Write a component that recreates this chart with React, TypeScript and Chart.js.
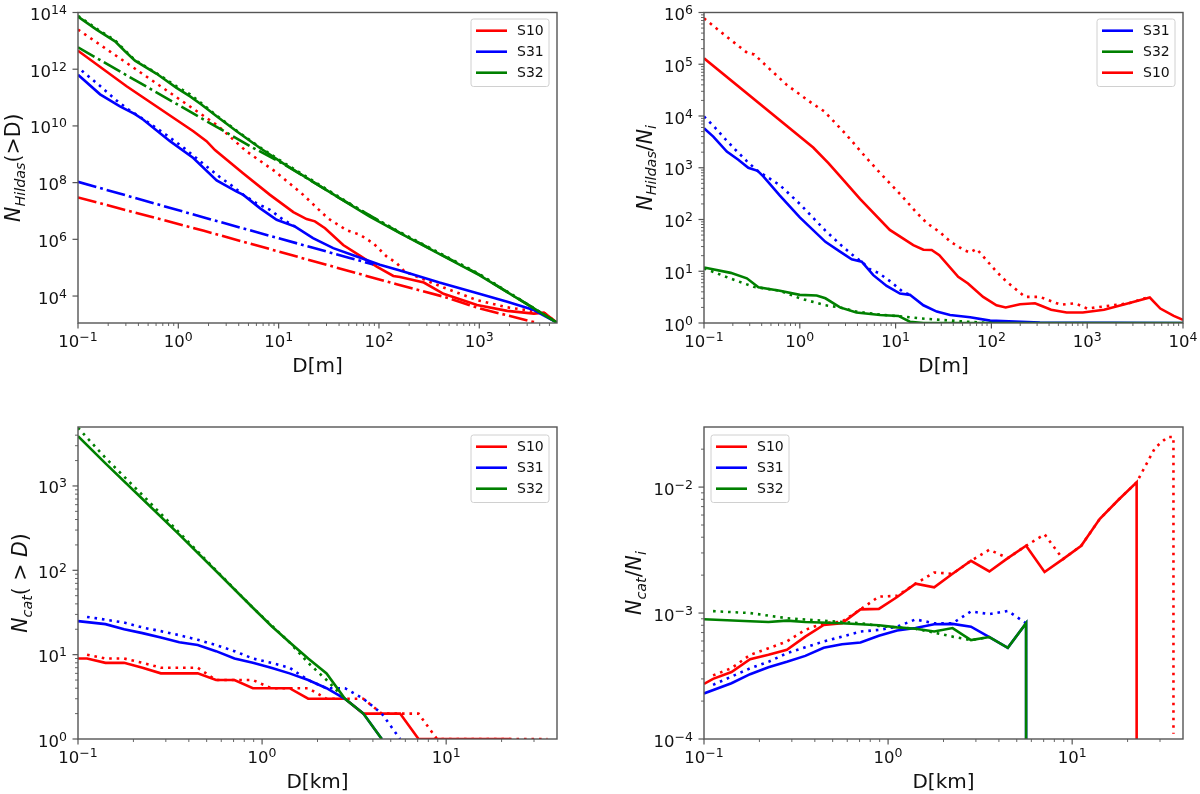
import React, { useEffect, useRef } from 'react';
import { Chart, registerables } from 'chart.js';

Chart.register(...registerables);

type Pt = [number, number];

const RED = '#ff0000';
const BLUE = '#0000ff';
const GREEN = '#008000';
const FONT = '"DejaVu Sans"';

// top left: N_Hildas(>D) against D[m]
const hildasS10: Pt[] = [[0.1, 4.5e12], [0.305, 2.5e11], [1.41, 6.5e9], [1.91, 2.9e9], [2.32, 1.4e9], [4.45, 2.1e8], [8.2, 3.7e7], [14, 9.1e6], [19, 5.2e6], [23, 4.3e6], [29, 2.45e6], [44, 6.3e5], [65, 2.6e5], [95, 1.1e5], [139, 5.1e4], [162, 4.7e4], [280, 3e4], [440, 1.2e4], [950, 4.8e3], [1900, 3e3], [3500, 2.4e3], [4400, 2.6e3], [5950, 1.15e3]];
const hildasS10Dot: Pt[] = [[0.1, 2.5e13], [2.45, 1.05e10], [4.73, 1.3e9], [9.2, 2.5e8], [17.6, 3.7e7], [31, 5.5e6], [47.6, 2.1e6], [64.7, 1.45e6], [88, 7.2e5], [119, 2.5e5], [150, 1.45e5], [180, 7.3e4], [440, 2e4], [950, 7.2e3], [1900, 4e3], [4400, 2.6e3], [5950, 1.15e3]];
const hildasS10Dash: Pt[] = [[0.1, 3e7], [1.8, 2e6], [150, 2.6e4], [440, 9.5e3], [1000, 3.7e3], [3700, 1.15e3]];
const hildasS31: Pt[] = [[0.1, 6.4e11], [0.166, 1.3e11], [0.262, 4.9e10], [0.37, 2.6e10], [0.448, 1.66e10], [0.826, 2.9e9], [1.41, 7.4e8], [2.41, 1.2e8], [3.82, 4.8e7], [4.45, 3.7e7], [6.5, 1.26e7], [9.55, 4.9e6], [14.6, 2.8e6], [22, 1.1e6], [35, 4.9e5], [60, 2.5e5], [102, 1.26e5], [162, 8e4], [400, 3e4], [1000, 1.2e4], [1900, 6.3e3], [3500, 3.2e3], [5950, 1.15e3]];
const hildasS31Dot: Pt[] = [[0.109, 8.9e11], [0.163, 2.7e11], [0.243, 7.8e10], [0.322, 3.7e10], [0.49, 1.4e10], [0.753, 4.9e9], [1.14, 1.66e9], [1.75, 4.8e8], [2.6, 1.55e8], [3.45, 7.6e7], [4.45, 3.7e7], [6.04, 1.86e7], [8.2, 1.1e7], [11.1, 4.9e6], [14.6, 2.8e6]];
const hildasS31Dash: Pt[] = [[0.1, 1.07e8], [1.8, 5.9e6], [51, 2.2e5], [88, 1.3e5]];
const hildasS32: Pt[] = [[0.1, 7.2e13], [0.153, 2.5e13], [0.234, 9.6e12], [0.294, 4.3e12], [0.37, 2e12], [0.608, 6.9e11], [0.96, 2.2e11], [1.31, 1.1e11], [1.71, 5.6e10], [2.41, 2.2e10], [3.81, 6.5e9], [6.52, 1.66e9], [11.1, 4.8e8], [40.8, 2.8e7], [81, 6.3e6], [162, 1.66e6], [1000, 5.5e4], [3500, 3.7e3], [5950, 1.15e3]];
const hildasS32Dot: Pt[] = [[0.1, 7.6e13], [0.153, 2.7e13], [0.234, 1.05e13], [0.294, 4.6e12], [0.37, 2.1e12], [0.608, 7.2e11], [0.96, 2.5e11], [1.31, 1.3e11], [1.71, 6.2e10], [2.41, 2.3e10], [3.81, 6.8e9], [6.52, 1.75e9], [11.1, 5.2e8], [40.8, 3e7], [81, 6.8e6], [162, 1.8e6], [1000, 6e4], [3500, 3.7e3], [5950, 1.15e3]];
const hildasS32Dash: Pt[] = [[0.1, 5.9e12], [5.38, 1.8e9], [11.1, 4.6e8], [40.8, 2.8e7], [162, 1.7e6], [1000, 5.7e4], [5950, 1.15e3]];

// top right: N_Hildas/N_i against D[m]
const ratioS31: Pt[] = [[0.1, 5.8e3], [0.125, 4e3], [0.173, 2.06e3], [0.228, 1.43e3], [0.29, 1e3], [0.363, 8.7e2], [0.416, 6.8e2], [0.62, 2.9e2], [1, 1.1e2], [1.85, 37], [2.63, 24], [3.48, 17], [4.43, 15.3], [5.85, 8.4], [8.07, 5.2], [11.1, 3.7], [14.1, 3.5], [19.5, 2.2], [26.9, 1.66], [37, 1.43], [60, 1.29], [97, 1.11], [321, 1.02], [10000, 1]];
const ratioS31Dot: Pt[] = [[0.1, 9.8e3], [0.13, 6e3], [0.166, 3.6e3], [0.214, 2.2e3], [0.278, 1.36e3], [0.315, 1.1e3], [0.363, 8.7e2], [0.62, 4.6e2], [1, 2e2], [1.85, 61], [2.74, 31], [3.68, 19.6], [4.43, 15.3], [5.4, 10.9], [6.6, 9.3], [8.9, 6.3], [11.9, 4], [14.1, 3.5]];
const ratioS32: Pt[] = [[0.1, 11.8], [0.19, 9.3], [0.28, 7.3], [0.37, 4.9], [0.62, 4.2], [1, 3.5], [1.5, 3.4], [1.85, 3], [2.63, 2], [3.9, 1.59], [6.9, 1.43], [10.7, 1.37], [14.1, 1.06], [19.5, 1], [10000, 1]];
const ratioS32Dot: Pt[] = [[0.1, 11.4], [0.19, 7.2], [0.33, 5], [0.62, 4.2], [1, 3], [1.85, 2.2], [2.63, 2], [3.9, 1.66], [6.9, 1.45], [12.5, 1.32], [18, 1.23], [31.6, 1.14], [55, 1.06], [79, 1.02], [100, 1]];
const ratioS10: Pt[] = [[0.1, 1.3e5], [1.38, 2.46e3], [1.99, 1.23e3], [2.74, 6.3e2], [4.25, 2.5e2], [8.7, 63], [15.3, 32], [19.5, 26], [23.8, 25.7], [28.6, 20.4], [45, 7.8], [57, 5.8], [82, 3.2], [113, 2.2], [141, 2], [199, 2.3], [285, 2.4], [321, 2.2], [420, 1.8], [610, 1.6], [900, 1.6], [1500, 1.8], [2700, 2.4], [4500, 3.1], [5800, 1.9], [8000, 1.37], [10000, 1.15]];
const ratioS10Dot: Pt[] = [[0.1, 7.7e5], [0.184, 3.1e5], [0.283, 1.66e5], [0.335, 1.55e5], [0.434, 9.8e4], [0.73, 4e4], [1.33, 1.78e4], [1.8, 1.23e4], [3.01, 4.5e3], [4.88, 1.6e3], [6.98, 7.7e2], [11.4, 2.96e2], [16.6, 1.35e2], [21.4, 84], [29, 57], [37.6, 37], [51, 26], [60, 23], [70, 27], [79, 21], [113, 9.8], [144, 6.3], [224, 3.2], [320, 3.2], [530, 2.25], [750, 2.4], [1000, 1.9], [2700, 2.4], [4500, 3.2]];

// bottom left: N_cat(>D) against D[km]
const catS10: Pt[] = [[0.1, 9], [0.112, 9], [0.141, 8], [0.178, 8], [0.224, 7], [0.282, 6], [0.355, 6], [0.447, 6], [0.562, 5], [0.708, 5], [0.891, 4], [1.12, 4], [1.41, 4], [1.78, 3], [2.24, 3], [2.82, 3], [3.55, 2], [4.47, 2], [5.62, 2], [7.08, 1], [8.91, 1], [11.2, 1], [14.1, 1], [17.8, 1], [22.4, 1]];
const catS10Dot: Pt[] = [[0.112, 10], [0.141, 9], [0.178, 9], [0.224, 8], [0.282, 7], [0.355, 7], [0.447, 7], [0.562, 5], [0.708, 5], [0.891, 5], [1.12, 4], [1.41, 4], [1.78, 4], [2.24, 3], [2.82, 3], [3.55, 3], [4.47, 2], [5.62, 2], [7.08, 2], [8.91, 1], [11.2, 1], [14.1, 1], [17.8, 1], [22.4, 1], [28.2, 1], [35.5, 1]];
const catS31: Pt[] = [[0.1, 25], [0.141, 23], [0.178, 20], [0.224, 18], [0.282, 16], [0.355, 14], [0.447, 13], [0.562, 11], [0.708, 9], [0.891, 8], [1.12, 7], [1.41, 6], [1.78, 5], [2.24, 4], [2.82, 3], [3.55, 2], [4.47, 1]];
const catS31Dot: Pt[] = [[0.112, 28], [0.141, 26], [0.178, 24], [0.224, 21], [0.282, 19], [0.355, 17], [0.447, 15], [0.562, 13], [0.708, 11], [0.891, 9], [1.12, 8], [1.41, 7], [1.78, 5], [2.24, 4], [2.82, 4], [3.55, 3], [4.47, 2], [5.62, 1]];
const catS32: Pt[] = [[0.1, 3900], [0.141, 1850], [0.224, 700], [0.355, 265], [0.562, 98], [0.891, 36], [1.12, 22], [1.41, 14], [1.78, 9], [2.24, 6], [2.82, 3], [3.55, 2], [4.47, 1]];
const catS32Dot: Pt[] = [[0.1, 4900], [0.141, 2150], [0.224, 780], [0.355, 280], [0.562, 100], [0.891, 36], [1.41, 14], [1.78, 8], [2.24, 5], [2.82, 3]];

// bottom right: N_cat/N_i against D[km], the last point of each line stands for a zero count
const fracS10: Pt[] = [[0.1, 2.74e-4], [0.112, 3e-4], [0.141, 3.4e-4], [0.178, 4.3e-4], [0.224, 4.66e-4], [0.282, 5.1e-4], [0.355, 6.5e-4], [0.447, 8.05e-4], [0.562, 8.3e-4], [0.708, 1.07e-3], [0.891, 1.08e-3], [1.12, 1.34e-3], [1.41, 1.71e-3], [1.78, 1.6e-3], [2.24, 2.05e-3], [2.82, 2.6e-3], [3.55, 2.14e-3], [4.47, 2.73e-3], [5.62, 3.42e-3], [7.08, 2.12e-3], [8.91, 2.68e-3], [11.2, 3.42e-3], [14.1, 5.57e-3], [17.8, 7.9e-3], [22.4, 1.09e-2], [22.4, 1e-6]];
const fracS10Dot: Pt[] = [[0.112, 3.2e-4], [0.141, 3.65e-4], [0.178, 4.65e-4], [0.224, 5.25e-4], [0.282, 5.95e-4], [0.355, 7.35e-4], [0.447, 8.3e-4], [0.562, 8.55e-4], [0.708, 1.07e-3], [0.891, 1.35e-3], [1.12, 1.37e-3], [1.41, 1.71e-3], [1.78, 2.1e-3], [2.24, 2.05e-3], [2.82, 2.6e-3], [3.55, 3.18e-3], [4.47, 2.73e-3], [5.62, 3.42e-3], [7.08, 4.22e-3], [8.91, 2.68e-3], [11.2, 3.42e-3], [14.1, 5.57e-3], [17.8, 7.9e-3], [22.4, 1.09e-2], [28.2, 2.05e-2], [33, 2.5e-2], [35.5, 2.5e-2], [35.5, 1.1e-4]];
const fracS31: Pt[] = [[0.1, 2.3e-4], [0.141, 2.77e-4], [0.178, 3.27e-4], [0.224, 3.71e-4], [0.282, 4.1e-4], [0.355, 4.57e-4], [0.447, 5.3e-4], [0.562, 5.65e-4], [0.708, 5.83e-4], [0.891, 6.6e-4], [1.12, 7.26e-4], [1.41, 7.6e-4], [1.78, 8.15e-4], [2.24, 8.2e-4], [2.82, 7.8e-4], [3.55, 6.45e-4], [4.47, 5.3e-4], [5.62, 8.3e-4], [5.62, 1e-6]];
const fracS31Dot: Pt[] = [[0.112, 2.69e-4], [0.141, 3.13e-4], [0.178, 3.64e-4], [0.224, 4.1e-4], [0.282, 4.8e-4], [0.355, 5.35e-4], [0.447, 5.95e-4], [0.562, 6.5e-4], [0.708, 7.13e-4], [0.891, 7.35e-4], [1.12, 7.8e-4], [1.41, 8.9e-4], [1.78, 8.3e-4], [2.24, 8.3e-4], [2.82, 1.03e-3], [3.55, 9.8e-4], [4.47, 1.04e-3], [5.62, 8.3e-4]];
const fracS32: Pt[] = [[0.1, 8.93e-4], [0.178, 8.6e-4], [0.224, 8.5e-4], [0.282, 8.7e-4], [0.355, 8.5e-4], [0.562, 8.3e-4], [0.891, 8e-4], [1.12, 7.7e-4], [1.41, 7.5e-4], [1.78, 7.13e-4], [2.24, 7.6e-4], [2.82, 6.1e-4], [3.55, 6.45e-4], [4.47, 5.3e-4], [5.62, 8.3e-4], [5.62, 1e-6]];
const fracS32Dot: Pt[] = [[0.112, 1.035e-3], [0.178, 1e-3], [0.282, 9.1e-4], [0.447, 8.7e-4], [0.708, 8.3e-4], [0.891, 7.9e-4], [1.41, 7.5e-4], [1.78, 7e-4], [2.24, 6.5e-4], [2.82, 6.1e-4], [3.55, 6.45e-4]];

const solid: number[] = [];
const dotted = [2.6, 4.9];
const dashDot = [19, 4, 2.8, 4];

type Run = { t: string; italic?: boolean; sub?: boolean };

interface Panel {
  col: number;
  row: number;
  box: { left: number; top: number; right: number; bottom: number };
  xMin: number;
  xMax: number;
  yMin: number;
  yMax: number;
  yStep: number;
  yMinor: boolean;
  xTitle: string;
  yTitle: Run[];
  yTitleX: number;
  legendX: number;
  legendY: number;
  lines: { label: string; color: string; dash: number[]; pts: Pt[] }[];
}

const panels: Panel[] = [
  {
    col: 0, row: 0,
    box: { left: 78, top: 12.5, right: 557, bottom: 323 },
    xMin: 0.1, xMax: 5950, yMin: 1120, yMax: 1e14, yStep: 2, yMinor: false,
    xTitle: 'D[m]',
    yTitle: [{ t: 'N', italic: true }, { t: 'Hildas', italic: true, sub: true }, { t: '(>D)' }],
    yTitleX: 20, legendX: 471, legendY: 19,
    lines: [
      { label: 'S10', color: RED, dash: solid, pts: hildasS10 },
      { label: 'S10', color: RED, dash: dotted, pts: hildasS10Dot },
      { label: 'S10', color: RED, dash: dashDot, pts: hildasS10Dash },
      { label: 'S31', color: BLUE, dash: solid, pts: hildasS31 },
      { label: 'S31', color: BLUE, dash: dotted, pts: hildasS31Dot },
      { label: 'S31', color: BLUE, dash: dashDot, pts: hildasS31Dash },
      { label: 'S32', color: GREEN, dash: solid, pts: hildasS32 },
      { label: 'S32', color: GREEN, dash: dotted, pts: hildasS32Dot },
      { label: 'S32', color: GREEN, dash: dashDot, pts: hildasS32Dash },
    ],
  },
  {
    col: 1, row: 0,
    box: { left: 704, top: 12.5, right: 1183, bottom: 323 },
    xMin: 0.1, xMax: 10000, yMin: 1, yMax: 1e6, yStep: 1, yMinor: true,
    xTitle: 'D[m]',
    yTitle: [{ t: 'N', italic: true }, { t: 'Hildas', italic: true, sub: true }, { t: '/' }, { t: 'N', italic: true }, { t: 'i', italic: true, sub: true }],
    yTitleX: 651.5, legendX: 1097, legendY: 19,
    lines: [
      { label: 'S31', color: BLUE, dash: solid, pts: ratioS31 },
      { label: 'S31', color: BLUE, dash: dotted, pts: ratioS31Dot },
      { label: 'S32', color: GREEN, dash: solid, pts: ratioS32 },
      { label: 'S32', color: GREEN, dash: dotted, pts: ratioS32Dot },
      { label: 'S10', color: RED, dash: solid, pts: ratioS10 },
      { label: 'S10', color: RED, dash: dotted, pts: ratioS10Dot },
    ],
  },
  {
    col: 0, row: 1,
    box: { left: 78, top: 427, right: 557, bottom: 739 },
    xMin: 0.1, xMax: 40, yMin: 1, yMax: 5000, yStep: 1, yMinor: true,
    xTitle: 'D[km]',
    yTitle: [{ t: 'N', italic: true }, { t: 'cat', italic: true, sub: true }, { t: '( > ' }, { t: 'D', italic: true }, { t: ')' }],
    yTitleX: 27, legendX: 471, legendY: 435,
    lines: [
      { label: 'S10', color: RED, dash: solid, pts: catS10 },
      { label: 'S10', color: RED, dash: dotted, pts: catS10Dot },
      { label: 'S31', color: BLUE, dash: solid, pts: catS31 },
      { label: 'S31', color: BLUE, dash: dotted, pts: catS31Dot },
      { label: 'S32', color: GREEN, dash: solid, pts: catS32 },
      { label: 'S32', color: GREEN, dash: dotted, pts: catS32Dot },
    ],
  },
  {
    col: 1, row: 1,
    box: { left: 704, top: 427, right: 1183, bottom: 739 },
    xMin: 0.1, xMax: 40, yMin: 1e-4, yMax: 0.03, yStep: 1, yMinor: true,
    xTitle: 'D[km]',
    yTitle: [{ t: 'N', italic: true }, { t: 'cat', italic: true, sub: true }, { t: '/' }, { t: 'N', italic: true }, { t: 'i', italic: true, sub: true }],
    yTitleX: 641, legendX: 711, legendY: 435,
    lines: [
      { label: 'S10', color: RED, dash: solid, pts: fracS10 },
      { label: 'S10', color: RED, dash: dotted, pts: fracS10Dot },
      { label: 'S31', color: BLUE, dash: solid, pts: fracS31 },
      { label: 'S31', color: BLUE, dash: dotted, pts: fracS31Dot },
      { label: 'S32', color: GREEN, dash: solid, pts: fracS32 },
      { label: 'S32', color: GREEN, dash: dotted, pts: fracS32Dot },
    ],
  },
];

// log tick positions, majors every `step` decades, optional 2..9 minors
function logTicks(min: number, max: number, step: number, minor: boolean) {
  const out: { value: number; major: boolean; exp: number }[] = [];
  for (let e = Math.floor(Math.log10(min)); e <= Math.ceil(Math.log10(max)); e++) {
    const base = Number('1e' + e);
    if (e % step === 0 && base >= min * 0.999 && base <= max * 1.001) out.push({ value: base, major: true, exp: e });
    if (!minor) continue;
    for (let m = 2; m < 10; m++) {
      const v = m * base;
      if (v > min && v < max) out.push({ value: v, major: false, exp: e });
    }
  }
  return out;
}

function powerLabel(ctx: CanvasRenderingContext2D, exp: number) {
  ctx.font = `16.5px ${FONT}`;
  const w10 = ctx.measureText('10').width;
  const text = String(exp).replace('-', '\u2212');
  ctx.font = `12.5px ${FONT}`;
  const wExp = ctx.measureText(text).width;
  return {
    width: w10 + wExp,
    draw(x: number, base: number) {
      ctx.textAlign = 'left';
      ctx.textBaseline = 'alphabetic';
      ctx.font = `16.5px ${FONT}`;
      ctx.fillText('10', x, base);
      ctx.font = `12.5px ${FONT}`;
      ctx.fillText(text, x + w10, base - 6);
    },
  };
}

function drawRuns(ctx: CanvasRenderingContext2D, runs: Run[], size: number) {
  const fontOf = (r: Run) => `${r.italic ? 'italic ' : ''}${r.sub ? size * 0.7 : size}px ${FONT}`;
  let total = 0;
  runs.forEach((r) => {
    ctx.font = fontOf(r);
    total += ctx.measureText(r.t).width;
  });
  let x = -total / 2;
  runs.forEach((r) => {
    ctx.font = fontOf(r);
    ctx.fillText(r.t, x, r.sub ? size * 0.22 : 0);
    x += ctx.measureText(r.t).width;
  });
}

const axesPlugin = {
  id: 'mplAxes',
  afterDraw(chart: any, _args: any, opts: any) {
    const panel: Panel = opts.panel;
    const { ctx, chartArea: a, scales } = chart;
    const offX = panel.col * 600;
    const offY = panel.row * 397;
    ctx.save();
    ctx.fillStyle = '#111';
    ctx.strokeStyle = '#555';
    ctx.lineWidth = 1.4;
    ctx.strokeRect(a.left, a.top, a.right - a.left, a.bottom - a.top);

    scales.x.ticks.forEach((t: any) => {
      const px = scales.x.getPixelForValue(t.value);
      ctx.beginPath();
      ctx.moveTo(px, a.bottom);
      ctx.lineTo(px, a.bottom + (t.major ? 5.5 : 3));
      ctx.lineWidth = t.major ? 1.2 : 0.9;
      ctx.stroke();
      if (t.major) {
        const lab = powerLabel(ctx, t.exp);
        lab.draw(px - lab.width / 2, a.bottom + 24);
      }
    });
    scales.y.ticks.forEach((t: any) => {
      const py = scales.y.getPixelForValue(t.value);
      ctx.beginPath();
      ctx.moveTo(a.left, py);
      ctx.lineTo(a.left - (t.major ? 5.5 : 3), py);
      ctx.lineWidth = t.major ? 1.2 : 0.9;
      ctx.stroke();
      if (t.major) {
        const lab = powerLabel(ctx, t.exp);
        lab.draw(a.left - 11 - lab.width, py + 7.5);
      }
    });

    // axis titles
    ctx.textBaseline = 'alphabetic';
    ctx.textAlign = 'center';
    ctx.font = `20px ${FONT}`;
    ctx.fillText(panel.xTitle, (a.left + a.right) / 2, a.bottom + 49);
    ctx.textAlign = 'left';
    ctx.save();
    ctx.translate(panel.yTitleX - offX, (a.top + a.bottom) / 2);
    ctx.rotate(-Math.PI / 2);
    drawRuns(ctx, panel.yTitle, 20.5);
    ctx.restore();

    // legend, one row for each solid line
    const entries = chart.data.datasets.filter((d: any) => d.borderDash.length === 0);
    const lx = panel.legendX - offX;
    const ly = panel.legendY - offY;
    ctx.beginPath();
    ctx.roundRect(lx, ly, 78, 67.5, 2.5);
    ctx.fillStyle = 'rgba(255,255,255,0.8)';
    ctx.fill();
    ctx.strokeStyle = '#d0d0d0';
    ctx.lineWidth = 1;
    ctx.stroke();
    entries.forEach((d: any, i: number) => {
      const y = ly + 11.7 + i * 21;
      ctx.beginPath();
      ctx.moveTo(lx + 5, y);
      ctx.lineTo(lx + 36, y);
      ctx.strokeStyle = d.borderColor;
      ctx.lineWidth = 2.6;
      ctx.stroke();
      ctx.fillStyle = '#111';
      ctx.font = `14px ${FONT}`;
      ctx.textAlign = 'left';
      ctx.textBaseline = 'middle';
      ctx.fillText(d.label, lx + 46, y + 0.5);
    });
    ctx.restore();
  },
};

function PanelChart({ panel }: { panel: Panel }) {
  const canvasRef = useRef<HTMLCanvasElement>(null);

  useEffect(() => {
    if (!canvasRef.current) return;
    const offX = panel.col * 600;
    const offY = panel.row * 397;
    const logScale = (min: number, max: number, step: number, minor: boolean) => ({
      type: 'logarithmic' as const,
      min,
      max,
      grid: { display: false, drawTicks: false },
      border: { display: false },
      ticks: { display: false },
      afterBuildTicks: (scale: any) => {
        scale.ticks = logTicks(min, max, step, minor);
      },
    });

    const chart = new Chart(canvasRef.current, {
      type: 'line',
      data: {
        datasets: panel.lines.map((l, i) => ({
          label: l.label,
          data: l.pts.map(([x, y]) => ({ x, y })),
          borderColor: l.color,
          borderDash: l.dash,
          borderWidth: 2.6,
          pointRadius: 0,
          fill: false,
          order: -i,
          tension: 0,
        })),
      },
      options: {
        animation: false,
        responsive: false,
        events: [],
        layout: {
          padding: {
            left: panel.box.left - offX,
            top: panel.box.top - offY,
            right: offX + 600 - panel.box.right,
            bottom: offY + 397 - panel.box.bottom,
          },
        },
        scales: {
          x: logScale(panel.xMin, panel.xMax, 1, true),
          y: logScale(panel.yMin, panel.yMax, panel.yStep, panel.yMinor),
        },
        plugins: {
          legend: { display: false },
          tooltip: { enabled: false },
          mplAxes: { panel },
        } as any,
      },
      plugins: [axesPlugin],
    });

    return () => {
      chart.destroy();
    };
  }, [panel]);

  return (
    <canvas
      ref={canvasRef}
      width={600}
      height={397}
      style={{ position: 'absolute', left: panel.col * 600, top: panel.row * 397, width: 600, height: 397 }}
    />
  );
}

export default function App() {
  return (
    <div style={{ position: 'absolute', left: 0, top: 0, width: 1200, height: 794, background: '#fff' }}>
      {panels.map((p) => (
        <PanelChart key={`${p.col}-${p.row}`} panel={p} />
      ))}
    </div>
  );
}
